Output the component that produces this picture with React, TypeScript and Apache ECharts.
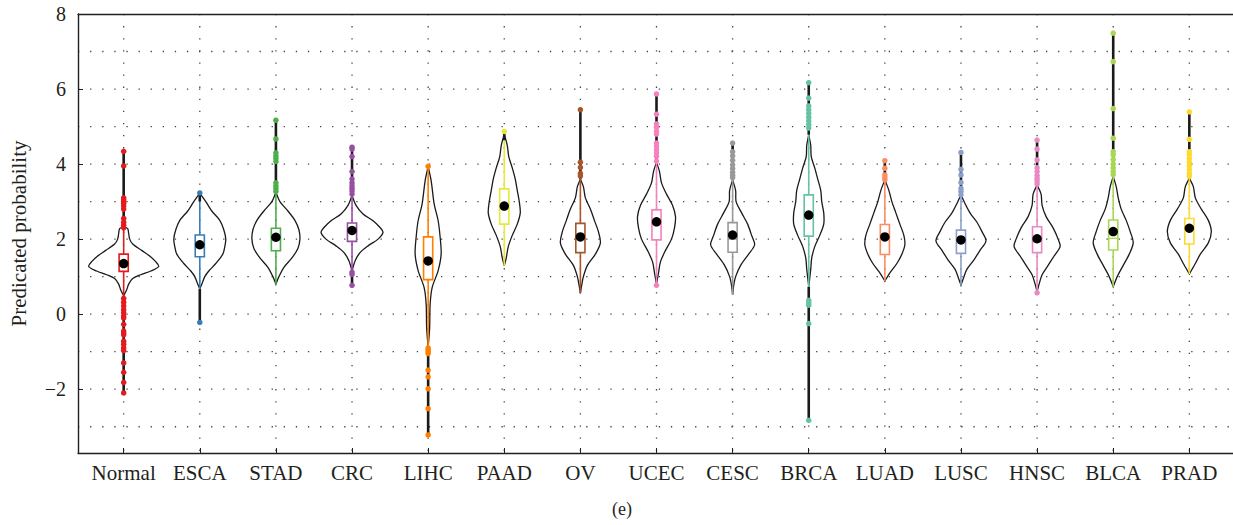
import React, { useEffect, useRef } from "react";
import * as echarts from "echarts";

const categories = ["Normal", "ESCA", "STAD", "CRC", "LIHC", "PAAD", "OV", "UCEC", "CESC", "BRCA", "LUAD", "LUSC", "HNSC", "BLCA", "PRAD"];
const colors = ["#e41a1c", "#377eb8", "#4daf4a", "#984ea3", "#ff7f00", "#e8e83c", "#a65628", "#f781bf", "#999999", "#66c2a5", "#fc8d62", "#8da0cb", "#e78ac3", "#a6d854", "#ffd92f"];

const q1 = [1.14, 1.53, 1.69, 1.94, 0.92, 2.40, 1.64, 1.98, 1.65, 2.08, 1.59, 1.62, 1.64, 1.71, 1.87];
const q3 = [1.60, 2.11, 2.29, 2.43, 2.06, 3.34, 2.42, 2.78, 2.44, 3.18, 2.39, 2.24, 2.33, 2.51, 2.55];
const medians = [1.35, 1.85, 2.0, 2.2, 1.4, 2.85, 2.05, 2.45, 2.0, 2.6, 2.05, 1.95, 2.0, 2.02, 2.25];
const means = [1.35, 1.85, 2.05, 2.23, 1.42, 2.88, 2.06, 2.46, 2.11, 2.64, 2.06, 1.98, 2.01, 2.20, 2.29];
const whiskerLow = [0.49, 0.67, 0.80, 1.15, -0.89, 1.29, 0.56, 0.80, 0.51, 0.73, 0.88, 0.77, 0.60, 0.73, 1.07];
const whiskerHigh = [2.33, 3.0, 3.25, 3.16, 3.94, 4.63, 3.6, 4.05, 3.58, 4.78, 3.58, 3.18, 3.44, 3.67, 3.62];

const outliers = [
  [4.34, 3.95, 3.1, 3.05, 3.0, 2.95, 2.88, 2.8, 2.55, 2.45, 2.37, 2.3, 0.42, 0.32, 0.22, 0.12, 0.04, -0.05, -0.1, -0.27, -0.45, -0.5, -0.55, -0.72, -0.8, -0.9, -0.97, -1.3, -1.55, -1.82, -2.1],
  [3.23, -0.22],
  [5.17, 4.67, 4.3, 4.22, 4.15, 4.07, 3.5, 3.42, 3.35, 3.27],
  [4.45, 4.4, 4.2, 3.8, 3.6, 3.5, 3.42, 3.35, 3.28, 3.2, 1.12, 1.06, 0.77],
  [3.94, -0.9, -0.95, -1.0, -1.05, -1.49, -1.67, -1.99, -2.52, -3.22],
  [4.87],
  [5.45, 4.05, 3.91, 3.75, 3.68],
  [5.87, 5.33, 5.07, 4.98, 4.88, 4.8, 4.56, 4.47, 4.38, 4.3, 4.21, 4.08, 0.77],
  [4.56, 4.33, 4.22, 4.1, 3.98, 3.88, 3.78, 3.7, 3.64],
  [6.17, 5.76, 5.55, 5.45, 5.35, 5.25, 5.15, 5.05, 4.96, 0.37, 0.3, 0.24, -0.25, -2.83],
  [4.09, 3.89, 3.71, 3.64, 3.58],
  [4.31, 3.86, 3.71, 3.51, 3.35, 3.27, 3.18],
  [4.64, 4.4, 4.11, 3.9, 3.8, 3.7, 3.62, 3.55, 3.47, 0.57],
  [7.49, 6.73, 5.48, 4.69, 4.33, 4.25, 4.12, 4.0, 3.9, 3.8, 3.72],
  [5.39, 4.66, 4.33, 4.25, 4.15, 4.05, 3.95, 3.85, 3.75, 3.68],
];

// violin density profiles: [value, relative density]
const violinDensity = [
  [[2.33, 0], [2.28, 4], [2.15, 5], [2.0, 6], [1.87, 9], [1.7, 18], [1.55, 26], [1.4, 32], [1.27, 35], [1.15, 27], [1.05, 17], [0.95, 9], [0.8, 5], [0.65, 3], [0.49, 0]],
  [[3.22, 0], [3.0, 6], [2.75, 12], [2.5, 20], [2.25, 24], [2.0, 26], [1.8, 25], [1.6, 23], [1.35, 16], [1.15, 9], [1.0, 5], [0.8, 2], [0.67, 0]],
  [[3.25, 0], [3.0, 4], [2.75, 12], [2.5, 19], [2.25, 23], [2.0, 24], [1.75, 22], [1.5, 16], [1.25, 8], [1.0, 3], [0.8, 0]],
  [[3.16, 0], [2.9, 4], [2.67, 11], [2.49, 21], [2.31, 28], [2.18, 31], [2.0, 26], [1.82, 16], [1.64, 8], [1.42, 3], [1.15, 0]],
  [[3.94, 0], [3.56, 3], [2.94, 6], [2.49, 10], [2.05, 12], [1.6, 13], [1.16, 10], [0.71, 4], [0.27, 2], [-0.36, 1.5], [-0.89, 0]],
  [[4.8, 0], [4.5, 3], [4.2, 4.5], [3.9, 8], [3.6, 11], [3.3, 13], [3.0, 15], [2.7, 16], [2.4, 13], [2.1, 8], [1.8, 4], [1.5, 2], [1.29, 0]],
  [[3.6, 0], [3.4, 3], [3.1, 5], [2.8, 10], [2.5, 14], [2.2, 18], [1.9, 20], [1.6, 15], [1.3, 7], [1.0, 3], [0.8, 1.5], [0.56, 0]],
  [[4.05, 0], [3.8, 3], [3.5, 5], [3.2, 10], [2.9, 16], [2.6, 19], [2.3, 18], [2.0, 15], [1.7, 9], [1.4, 4], [1.1, 2], [0.8, 0]],
  [[3.58, 0], [3.3, 3], [3.0, 3.5], [2.7, 9], [2.4, 15], [2.1, 19], [1.85, 22], [1.6, 16], [1.3, 8], [1.0, 3], [0.75, 1], [0.51, 0]],
  [[4.78, 0], [4.5, 2], [4.2, 2.5], [3.9, 6], [3.6, 9], [3.3, 12], [3.0, 13], [2.7, 15], [2.4, 15], [2.1, 11], [1.8, 6], [1.5, 3], [1.2, 2], [0.73, 0]],
  [[3.58, 0], [3.3, 4], [3.0, 7], [2.7, 11], [2.4, 15], [2.1, 19], [1.85, 20], [1.6, 17], [1.35, 12], [1.1, 5], [0.88, 0]],
  [[3.18, 0], [2.95, 4], [2.7, 9], [2.45, 16], [2.2, 21], [1.95, 25], [1.7, 19], [1.45, 13], [1.2, 6], [1.0, 3], [0.77, 0]],
  [[3.44, 0], [3.2, 4], [2.9, 5], [2.6, 9], [2.3, 16], [2.0, 21], [1.8, 23], [1.55, 17], [1.3, 11], [1.05, 5], [0.8, 2], [0.6, 0]],
  [[3.67, 0], [3.4, 3], [3.1, 5], [2.8, 8], [2.5, 13], [2.2, 17], [1.9, 20], [1.6, 16], [1.3, 10], [1.0, 4], [0.73, 0]],
  [[3.62, 0], [3.4, 4], [3.1, 6], [2.8, 12], [2.5, 19], [2.2, 22], [1.9, 19], [1.6, 11], [1.35, 6], [1.07, 0]],
];

const yTicks = [-2, 0, 2, 4, 6, 8];
const yGrid = [-3, -2, -1, 0, 1, 2, 3, 4, 5, 6, 7];

const FONT = "'Liberation Serif', 'DejaVu Serif', serif";
const TEXT = "#231f20";
const DENSITY_SCALE = 1 / 76.1;
const BOX_HALF = 0.06;
const X_MIN = 0.4;
const X_MAX = 15.6;
const Y_MIN = -3.7;
const Y_MAX = 8;

export default function App() {
  const ref = useRef<HTMLDivElement>(null);
  useEffect(() => {
    if (!ref.current) return;
    const chart = echarts.init(ref.current, null, { renderer: "svg" });
    const xPos = categories.map((_, i) => i + 1);

    const outlierData: number[][] = [];
    outliers.forEach((arr, i) => arr.forEach((v) => outlierData.push([i + 1, v, i])));

    const gridStyle = { stroke: "#444", lineWidth: 1.3, lineDash: [1.3, 10.8] };
    const renderGrid = (params: any, api: any) => {
      const children: any[] = [];
      yGrid.forEach((v) => {
        const a = api.coord([X_MIN, v]);
        const b = api.coord([X_MAX, v]);
        children.push({ type: "line", shape: { x1: a[0], y1: a[1], x2: b[0], y2: b[1] }, style: gridStyle });
      });
      xPos.forEach((v) => {
        const a = api.coord([v, Y_MIN]);
        const b = api.coord([v, Y_MAX]);
        children.push({ type: "line", shape: { x1: a[0], y1: b[1], x2: b[0], y2: a[1] }, style: gridStyle });
      });
      return { type: "group", children };
    };

    const renderItem = (params: any, api: any) => {
      const i = params.dataIndex;
      const xc = xPos[i];
      const prof = violinDensity[i];
      const pts: number[][] = [];
      prof.forEach(([y, w]) => pts.push(api.coord([xc + w * DENSITY_SCALE, y])));
      prof.slice().reverse().forEach(([y, w]) => pts.push(api.coord([xc - w * DENSITY_SCALE, y])));
      const all = outliers[i].concat([whiskerLow[i], whiskerHigh[i]]);
      const lo = Math.min(...all);
      const hi = Math.max(...all);
      const pLo = api.coord([xc, lo]);
      const pHi = api.coord([xc, hi]);
      const wLo = api.coord([xc, whiskerLow[i]]);
      const wHi = api.coord([xc, whiskerHigh[i]]);
      const b1 = api.coord([xc - BOX_HALF, q3[i]]);
      const b2 = api.coord([xc + BOX_HALF, q1[i]]);
      const m1 = api.coord([xc - BOX_HALF, medians[i]]);
      const m2 = api.coord([xc + BOX_HALF, medians[i]]);
      const c = colors[i];
      const black = { stroke: "#1a1a1a", lineWidth: 2.6 };
      return {
        type: "group",
        children: [
          {
            type: "polygon",
            shape: { points: pts, smooth: 0.3 },
            style: { fill: "none", stroke: "#1a1a1a", lineWidth: 1.3 },
          },
          { type: "line", shape: { x1: pLo[0], y1: pLo[1], x2: wLo[0], y2: wLo[1] }, style: black },
          { type: "line", shape: { x1: wHi[0], y1: wHi[1], x2: pHi[0], y2: pHi[1] }, style: black },
          {
            type: "line",
            shape: { x1: wLo[0], y1: wLo[1], x2: wHi[0], y2: wHi[1] },
            style: { stroke: c, lineWidth: 1.6 },
          },
          {
            type: "rect",
            shape: { x: b1[0], y: b1[1], width: b2[0] - b1[0], height: b2[1] - b1[1] },
            style: { fill: "#ffffff", stroke: c, lineWidth: 1.6 },
          },
          {
            type: "line",
            shape: { x1: m1[0], y1: m1[1], x2: m2[0], y2: m2[1] },
            style: { stroke: c, lineWidth: 1.3 },
          },
        ],
      };
    };

    chart.setOption({
      animation: false,
      backgroundColor: "#ffffff",
      grid: {
        left: 78,
        top: 14,
        width: 1157,
        height: 439,
        show: false,
        outerBoundsMode: "none",
        containLabel: false,
      },
      xAxis: [
        {
          type: "value",
          min: X_MIN,
          max: X_MAX,
          axisLine: { show: true, onZero: false, lineStyle: { color: TEXT, width: 1.4 } },
          axisTick: { show: true, inside: true, length: 5, customValues: xPos, lineStyle: { color: TEXT } },
          axisLabel: {
            customValues: xPos,
            formatter: (v: number) => categories[Math.round(v) - 1] ?? "",
            fontFamily: FONT,
            fontSize: 21,
            color: TEXT,
            margin: 9,
          },
          splitLine: { show: false },
        },
        {
          type: "value",
          position: "top",
          min: X_MIN,
          max: X_MAX,
          axisLine: { show: true, onZero: false, lineStyle: { color: TEXT, width: 1.4 } },
          axisTick: { show: false },
          axisLabel: { show: false },
          splitLine: { show: false },
        },
      ],
      yAxis: {
        type: "value",
        min: Y_MIN,
        max: Y_MAX,
        name: "Predicated probability",
        nameLocation: "middle",
        nameGap: 49,
        nameTextStyle: { fontFamily: FONT, fontSize: 21, color: TEXT },
        axisLine: { show: true, onZero: false, lineStyle: { color: TEXT, width: 1.4 } },
        axisTick: { show: true, inside: true, length: 5, customValues: yTicks, lineStyle: { color: TEXT } },
        axisLabel: {
          customValues: yTicks,
          formatter: (v: number) => (v < 0 ? "\u2212" + Math.abs(v) : String(v)),
          fontFamily: FONT,
          fontSize: 20,
          color: TEXT,
          margin: 12,
        },
        splitLine: { show: false },
      },
      graphic: [
        {
          type: "text",
          left: 612,
          top: 500,
          style: { text: "(e)", font: `18px ${FONT}`, fill: TEXT },
        },
      ],
      series: [
        {
          type: "custom",
          renderItem: renderGrid,
          data: [[X_MIN, Y_MIN]],
          encode: { x: 0, y: 1 },
          z: 0,
          silent: true,
        },
        {
          type: "custom",
          renderItem,
          data: xPos.map((x, i) => [x, means[i]]),
          encode: { x: 0, y: 1 },
          z: 2,
          silent: true,
        },
        {
          type: "scatter",
          data: outlierData,
          symbolSize: 5.5,
          itemStyle: { color: (p: any) => colors[p.data[2]], opacity: 1 },
          z: 3,
          silent: true,
        },
        {
          type: "scatter",
          data: xPos.map((x, i) => [x, means[i]]),
          symbolSize: 9.5,
          itemStyle: { color: "#000000", opacity: 1 },
          z: 4,
          silent: true,
        },
      ],
    });
    return () => chart.dispose();
  }, []);
  return <div ref={ref} style={{ position: "absolute", left: 0, top: 0, width: 1233, height: 525 }} />;
}
